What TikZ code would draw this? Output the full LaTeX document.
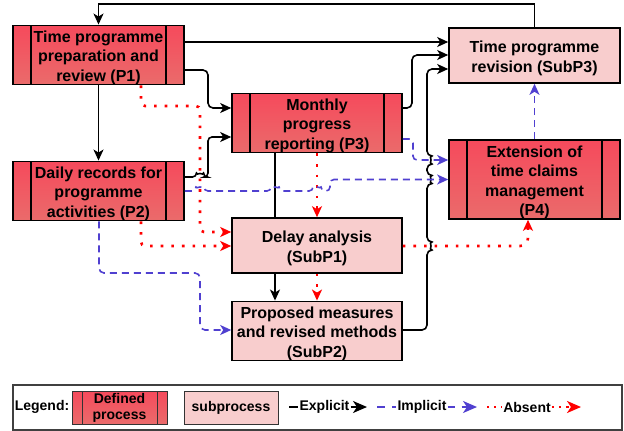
\documentclass[tikz,border=0pt]{standalone}
\usepackage{fontspec}
\setmainfont{Liberation Sans}
\usetikzlibrary{arrows.meta,calc}
\definecolor{procTop}{HTML}{F64A5C}
\definecolor{procBot}{HTML}{EA6B6B}
\definecolor{subFill}{HTML}{F8CDCD}
\definecolor{implc}{HTML}{5040D0}
\definecolor{absc}{HTML}{FF0000}
\newcommand{\tstrut}{\rule{0pt}{17pt}}
\tikzset{
  boxtext/.style={font=\bfseries\fontsize{16}{19.5}\selectfont, align=center, text=black, inner sep=0pt},
  legtext/.style={font=\bfseries\fontsize{14}{16}\selectfont, align=center, text=black, inner sep=1pt},
  defproc/.style={boxtext, draw=black, line width=1.6pt, top color=procTop, bottom color=procBot,
    path picture={
      \draw[line width=1.4pt] ([xshift=18pt]path picture bounding box.north west) -- ([xshift=18pt]path picture bounding box.south west);
      \draw[line width=1.4pt] ([xshift=-18pt]path picture bounding box.north east) -- ([xshift=-18pt]path picture bounding box.south east);}},
  subproc/.style={boxtext, draw=black, line width=1.6pt, fill=subFill},
  legproc/.style={legtext, draw=black!80, line width=1pt, top color=procTop, bottom color=procBot,
    path picture={
      \draw[line width=0.9pt] ([xshift=10pt]path picture bounding box.north west) -- ([xshift=10pt]path picture bounding box.south west);
      \draw[line width=0.9pt] ([xshift=-10pt]path picture bounding box.north east) -- ([xshift=-10pt]path picture bounding box.south east);}},
  legsub/.style={legtext, draw=black!80, line width=1pt, fill=subFill},
  expl/.style={draw=black, line width=1.6pt},
  impl/.style={draw=implc, line width=1.6pt, dash pattern=on 7pt off 5pt},
  absn/.style={draw=absc, line width=2.6pt, dash pattern=on 2.6pt off 8pt},
  tipd/.style={-{Stealth[length=11pt,width=10pt,inset=3pt]}},
  tipl/.style={-{Stealth[length=14pt,width=12pt,inset=4pt]}},
}
\begin{document}
\begin{tikzpicture}[x=1pt,y=-1pt]
\useasboundingbox[fill=white] (0,0) rectangle (624,431);

% boxes
\node[defproc, minimum width=171pt, minimum height=56pt] (p1) at (98.5,55) {\tstrut Time programme\\preparation and\\review (P1)};
\node[defproc, minimum width=171pt, minimum height=56pt] (p2) at (98.5,191) {\tstrut Daily records for\\programme\\activities (P2)};
\node[defproc, minimum width=170pt, minimum height=56pt] (p3) at (317,123) {\tstrut Monthly\\progress\\reporting (P3)};
\node[subproc, minimum width=170pt, minimum height=55pt] (sp1) at (317,245.5) {\tstrut Delay analysis\\(SubP1)};
\node[subproc, minimum width=170pt, minimum height=56pt] (sp2) at (317,331) {\tstrut Proposed measures\\and revised methods\\(SubP2)};
\node[subproc, minimum width=171pt, minimum height=55pt] (sp3) at (534.5,55.5) {\tstrut Time programme\\revision (SubP3)};
\node[defproc, minimum width=171pt, minimum height=79pt] (p4) at (534.5,179.5) {\tstrut Extension of\\time claims\\management\\(P4)};

% explicit connectors
\draw[expl,tipd] (sp3.north) -- ++(0,-23) -| (p1.north);
\draw[expl,tipd] (p1.east |- 0,42) -- (sp3.west |- 0,42);
\draw[expl,tipd,rounded corners=5pt] (p1.east |- 0,70) -| (208,108) -- (p3.west |- 0,108);
\draw[expl,tipd,rounded corners=4pt] (p2.east |- 0,177) -- (196.5,177) arc[start angle=180,end angle=0,radius=3.5pt] -- (208,177) -- (208,137) -- (p3.west |- 0,137);
\draw[expl,tipd] (p1.south) -- (p2.north);
\draw[expl,tipd,rounded corners=5pt] (p3.east |- 0,108) -| (412,55) -- (sp3.west |- 0,55);
\draw[expl,tipd,rounded corners=5pt] (sp2.east |- 0,330) -- (427,330) -- (427,250)
   arc[start angle=-90,end angle=90,radius=4pt] -- (427,183.5)
   arc[start angle=-90,end angle=90,radius=4pt] -- (427,164)
   arc[start angle=-90,end angle=90,radius=4pt] -- (427,69) -- (sp3.west |- 0,69);
\draw[expl] (p3.south -| 275,0) -- (sp1.north -| 275,0);
\draw[expl,tipd] (sp1.south -| 275,0) -- (sp2.north -| 275,0);

% absent connectors
\draw[absn,tipd] (p3.south) -- (sp1.north);
\draw[absn,tipd] (sp1.south) -- (sp2.north);
\draw[absn,tipd,rounded corners=4pt] (p1.south -| 141,0) -- (141,106) -- (200,106) -- (200,232) -- (sp1.west |- 0,232);
\draw[absn,tipd,rounded corners=4pt] (p2.south -| 141,0) |- (sp1.west |- 0,246);
\draw[absn,tipd,rounded corners=8pt] (sp1.east |- 0,246) -| (p4.south -| 528,0);

% implicit connectors
\draw[impl,tipd,rounded corners=4pt] (p2.east |- 0,191) -- (196,191) arc[start angle=180,end angle=0,radius=4pt]
   -- (271,191) arc[start angle=180,end angle=0,radius=4pt]
   -- (313,191) arc[start angle=180,end angle=0,radius=4pt]
   -- (330,191) -- (330,179.5) -- (p4.west |- 0,179.5);
\draw[impl,tipd,rounded corners=4pt] (p3.east |- 0,139) -| (413,160) -- (p4.west |- 0,160);
\draw[impl,tipd,rounded corners=5pt] (p2.south -| 99,0) -- (99,273) -- (200,273) -- (200,330) -- (sp2.west |- 0,330);
\draw[impl,tipd] (p4.north) -- (sp3.south);

% legend
\node[draw=black!75, line width=1.2pt, minimum width=609pt, minimum height=45pt, inner sep=0pt] (legend) at (317.5,407.5) {};
\node[legtext] (lgl) at (42,407) {Legend:};
\node[legproc, minimum width=95pt, minimum height=33pt, inner sep=0pt] (lgdp) at (119.5,407.5) {Defined\\process};
\node[legsub, minimum width=94pt, minimum height=33pt] (lgsp) at (231,407.5) {subprocess};
\node[legtext] (lgex) at (324.5,407) {Explicit};
\coordinate (lgexa) at (289,407);
\coordinate (lgexb) at (367,407);
\draw[expl] (lgexa) -- (lgex.west);
\draw[expl,tipl] (lgex.east) -- (lgexb);
\node[legtext] (lgim) at (422,407) {Implicit};
\coordinate (lgima) at (377,407);
\coordinate (lgimb) at (477,407);
\draw[impl,line width=2pt,dash pattern=on 8pt off 7pt] (lgima) -- (lgim.west);
\draw[impl,line width=2pt,dash pattern=on 7pt off 7pt,tipl] (lgim.east) -- (lgimb);
\node[legtext] (lgab) at (527,407) {Absent};
\coordinate (lgaba) at (487,407);
\coordinate (lgabb) at (581,407);
\draw[absn,line width=2.2pt,dash pattern=on 2.2pt off 5pt] (lgaba) -- (lgab.west);
\draw[absn,line width=2.2pt,dash pattern=on 2.2pt off 5pt,tipl] (lgab.east) -- (lgabb);
\end{tikzpicture}
\end{document}
